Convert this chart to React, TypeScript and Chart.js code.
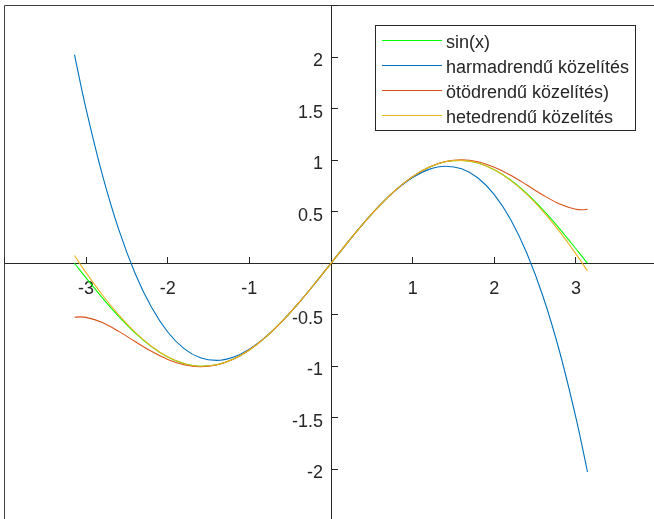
import React, { useEffect, useRef } from "react";
import { Chart, registerables } from "chart.js";

Chart.register(...registerables);

// x sample positions (from -pi to pi)
const xs = [
  -3.1416, -3.07, -3.0, -2.8, -2.6, -2.4, -2.2, -2.0, -1.8, -1.6, -1.4, -1.2, -1.0, -0.8, -0.6, -0.4, -0.2,
  0, 0.2, 0.4, 0.6, 0.8, 1.0, 1.2, 1.4, 1.6, 1.8, 2.0, 2.2, 2.4, 2.6, 2.8, 3.0, 3.07, 3.1416,
];

const sinVals = [
  0, -0.0715, -0.1411, -0.335, -0.5155, -0.6755, -0.8085, -0.9093, -0.9738, -0.9996, -0.9854, -0.932, -0.8415,
  -0.7174, -0.5646, -0.3894, -0.1987, 0, 0.1987, 0.3894, 0.5646, 0.7174, 0.8415, 0.932, 0.9854, 0.9996,
  0.9738, 0.9093, 0.8085, 0.6755, 0.5155, 0.335, 0.1411, 0.0715, 0,
];

const order3Vals = [
  2.0261, 1.7524, 1.5, 0.8587, 0.3293, -0.096, -0.4253, -0.6667, -0.828, -0.9173, -0.9427, -0.912, -0.8333,
  -0.7147, -0.564, -0.3893, -0.1987, 0, 0.1987, 0.3893, 0.564, 0.7147, 0.8333, 0.912, 0.9427, 0.9173,
  0.828, 0.6667, 0.4253, 0.096, -0.3293, -0.8587, -1.5, -1.7524, -2.0261,
];

const order5Vals = [
  -0.524, -0.5201, -0.525, -0.5755, -0.6608, -0.7596, -0.8548, -0.9333, -0.9855, -1.0047, -0.9875, -0.9327,
  -0.8417, -0.7174, -0.5646, -0.3894, -0.1987, 0, 0.1987, 0.3894, 0.5646, 0.7174, 0.8417, 0.9327, 0.9875,
  1.0047, 0.9855, 0.9333, 0.8548, 0.7596, 0.6608, 0.5755, 0.525, 0.5201, 0.524,
];

const order7Vals = [
  0.0752, -0.0102, -0.0911, -0.3078, -0.5014, -0.6686, -0.8053, -0.9079, -0.9733, -0.9994, -0.9854, -0.932,
  -0.8415, -0.7174, -0.5646, -0.3894, -0.1987, 0, 0.1987, 0.3894, 0.5646, 0.7174, 0.8415, 0.932, 0.9854,
  0.9994, 0.9733, 0.9079, 0.8053, 0.6686, 0.5014, 0.3078, 0.0911, 0.0102, -0.0752,
];

const seriesLabels = ["sin(x)", "harmadrendű közelítés", "ötödrendű közelítés)", "hetedrendű közelítés"];
const seriesColors = ["#00ff00", "#0072bd", "#d95319", "#edb120"];

const xTicks = [-4, -3, -2, -1, 1, 2, 3, 4];
const xTickLabels = ["", "-3", "-2", "-1", "1", "2", "3", ""];
const yTicks = [-2.5, -2, -1.5, -1, -0.5, 0.5, 1, 1.5, 2, 2.5];
const yTickLabels = ["", "-2", "-1.5", "-1", "-0.5", "0.5", "1", "1.5", "2", ""];

const FONT = "18px 'Liberation Sans', Arial, Helvetica, sans-serif";
const AXIS_COLOR = "#262626";

const axesPlugin = {
  id: "originAxes",
  beforeDatasetsDraw(chart: any) {
    const { ctx, chartArea, scales } = chart;
    const xs0 = scales.x;
    const ys0 = scales.y;
    ctx.save();
    // frame
    ctx.strokeStyle = "#404040";
    ctx.lineWidth = 1;
    ctx.beginPath();
    const l = Math.floor(chartArea.left) + 0.5;
    const t = Math.floor(chartArea.top) + 0.5;
    ctx.moveTo(l, chartArea.bottom);
    ctx.lineTo(l, t);
    ctx.lineTo(chartArea.right, t);
    ctx.stroke();

    const ox = Math.floor(xs0.getPixelForValue(0)) + 0.5;
    const oy = Math.floor(ys0.getPixelForValue(0)) + 0.5;
    ctx.strokeStyle = AXIS_COLOR;
    ctx.beginPath();
    ctx.moveTo(chartArea.left, oy);
    ctx.lineTo(chartArea.right, oy);
    ctx.moveTo(ox, chartArea.top);
    ctx.lineTo(ox, chartArea.bottom);
    ctx.stroke();

    const tickLen = 6.5;
    ctx.beginPath();
    xTicks.forEach((v) => {
      const px = Math.floor(xs0.getPixelForValue(v)) + 0.5;
      ctx.moveTo(px, oy);
      ctx.lineTo(px, oy - tickLen);
    });
    yTicks.forEach((v) => {
      const py = Math.floor(ys0.getPixelForValue(v)) + 0.5;
      ctx.moveTo(ox, py);
      ctx.lineTo(ox + tickLen, py);
    });
    ctx.stroke();

    ctx.fillStyle = AXIS_COLOR;
    ctx.font = FONT;
    ctx.textBaseline = "alphabetic";
    ctx.textAlign = "center";
    xTicks.forEach((v, i) => {
      const lab = xTickLabels[i];
      if (!lab) return;
      ctx.fillText(lab, xs0.getPixelForValue(v), oy + 30);
    });
    ctx.textAlign = "right";
    yTicks.forEach((v, i) => {
      const lab = yTickLabels[i];
      if (!lab) return;
      ctx.fillText(lab, ox - 8.5, ys0.getPixelForValue(v) + 9);
    });
    ctx.restore();
  },
};

const legendPlugin = {
  id: "boxLegend",
  afterDraw(chart: any) {
    const { ctx } = chart;
    ctx.save();
    const bx = 375.5, by = 25.5, bw = 260, bh = 105;
    ctx.fillStyle = "#ffffff";
    ctx.fillRect(bx, by, bw, bh);
    ctx.strokeStyle = AXIS_COLOR;
    ctx.lineWidth = 1;
    ctx.strokeRect(bx, by, bw, bh);
    ctx.font = FONT;
    ctx.textAlign = "left";
    ctx.textBaseline = "alphabetic";
    seriesLabels.forEach((lab, i) => {
      const y = 40.5 + i * 25;
      ctx.strokeStyle = seriesColors[i];
      ctx.lineWidth = 1.2;
      ctx.beginPath();
      ctx.moveTo(382, y);
      ctx.lineTo(442, y);
      ctx.stroke();
      ctx.fillStyle = AXIS_COLOR;
      ctx.fillText(lab, 446, y + 7);
    });
    ctx.restore();
  },
};

export default function App() {
  const ref = useRef<HTMLCanvasElement>(null);
  useEffect(() => {
    const canvas = ref.current;
    if (!canvas) return;
    const valueSets = [sinVals, order3Vals, order5Vals, order7Vals];
    const chart = new Chart(canvas, {
      type: "line",
      data: {
        datasets: valueSets.map((vals, i) => ({
          label: seriesLabels[i],
          data: xs.map((x, j) => ({ x, y: vals[j] })),
          borderColor: seriesColors[i],
          backgroundColor: seriesColors[i],
          borderWidth: 1.1,
          pointRadius: 0,
          fill: false,
          cubicInterpolationMode: "monotone" as const,
          order: 4 - i,
        })),
      },
      options: {
        animation: false,
        responsive: false,
        events: [],
        layout: { padding: { left: 4.4, right: 12.4, top: 5.8, bottom: 19.2 } },
        scales: {
          x: { type: "linear", min: -4, max: 4, display: false },
          y: { type: "linear", min: -2.5, max: 2.5, display: false },
        },
        plugins: { legend: { display: false }, tooltip: { enabled: false } },
      },
      plugins: [axesPlugin, legendPlugin],
    } as any);
    return () => chart.destroy();
  }, []);
  return (
    <div
      style={{
        position: "fixed",
        left: 0,
        top: 0,
        width: 654,
        height: 519,
        overflow: "hidden",
        background: "#ffffff",
      }}
    >
      <canvas ref={ref} width={670} height={540} style={{ display: "block" }} />
    </div>
  );
}
